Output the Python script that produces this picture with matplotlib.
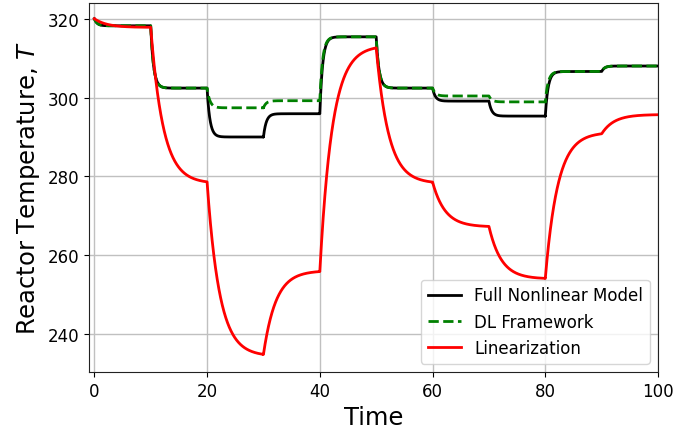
import numpy as np
import matplotlib.pyplot as plt

# step change times and the level each curve settles to in each interval
t_steps = [0, 10, 20, 30, 40, 50, 60, 70, 80, 90, 100]
T0 = 320.0
full_levels = [318.2, 302.4, 290.0, 295.9, 315.4, 302.4, 299.1, 295.3, 306.6, 308.0]
dl_levels = [318.2, 302.4, 297.4, 299.2, 315.4, 302.4, 300.4, 298.9, 306.6, 308.0]
lin_levels = [317.8, 278.2, 234.4, 256.1, 313.2, 278.2, 267.2, 254.0, 291.2, 295.7]
tau_full = 0.5
tau_dl = 0.5
tau_lin = 2.2


def response(levels, tau, dt=0.01):
    # first-order lag through the piecewise constant targets
    ts, ys = [], []
    y = T0
    for i, L in enumerate(levels):
        t = np.arange(t_steps[i], t_steps[i + 1] + dt / 2, dt)
        seg = L + (y - L) * np.exp(-(t - t_steps[i]) / tau)
        ts.append(t)
        ys.append(seg)
        y = seg[-1]
    return np.concatenate(ts), np.concatenate(ys)


fig, ax = plt.subplots(figsize=(6.77, 4.35), dpi=100)
fig.subplots_adjust(left=0.131, right=0.972, top=0.991, bottom=0.1425)

t, y = response(full_levels, tau_full)
ax.plot(t, y, color='black', lw=2, label='Full Nonlinear Model')
t, y = response(dl_levels, tau_dl)
ax.plot(t, y, color='green', lw=2, ls='--', label='DL Framework')
t, y = response(lin_levels, tau_lin)
ax.plot(t, y, color='red', lw=2, label='Linearization')

ax.set_xlim(-1, 100)
ax.set_ylim(230.4, 324)
ax.set_xticks([0, 20, 40, 60, 80, 100])
ax.set_yticks([240, 260, 280, 300, 320])
ax.tick_params(labelsize=12)
for s in ax.spines.values():
    s.set_color('#222222')
ax.grid(True, color='#c0c0c0', lw=1)
ax.set_axisbelow(True)
ax.set_xlabel('Time', fontsize=17.5)
ax.set_ylabel('Reactor Temperature, $T$', fontsize=17.5)
ax.legend(loc='lower right', fontsize=12)

plt.savefig('out.png')
